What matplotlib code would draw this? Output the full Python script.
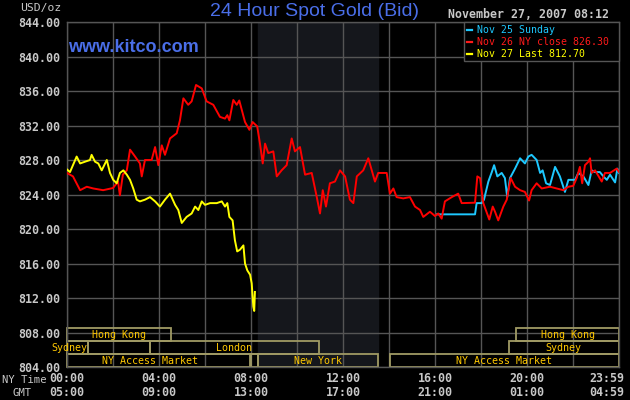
import matplotlib
matplotlib.use("Agg")
import matplotlib.pyplot as plt
from matplotlib.patches import Rectangle
from matplotlib.transforms import blended_transform_factory

# --- DATA (hours since 00:00 NY time, USD/oz) ---
red_t = [0.0, 0.26, 0.57, 0.86, 1.14, 1.57, 2.0, 2.22, 2.30, 2.43, 2.6, 2.74, 2.96, 3.17, 3.25,
         3.39, 3.68, 3.83, 3.97, 4.12, 4.26, 4.48, 4.77, 4.91, 5.06, 5.27, 5.42, 5.61, 5.86, 6.07,
         6.36, 6.65, 6.87, 6.97, 7.06, 7.23, 7.38, 7.49, 7.74, 7.93, 8.07, 8.27, 8.39, 8.51, 8.61,
         8.75, 8.97, 9.12, 9.33, 9.55, 9.77, 9.91, 10.13, 10.35, 10.64, 10.86, 11.0, 11.12, 11.26,
         11.43, 11.65, 11.87, 12.09, 12.30, 12.45, 12.6, 12.88, 13.1, 13.39, 13.53, 13.9, 14.04,
         14.19, 14.33, 14.62, 14.91, 15.13, 15.35, 15.49, 15.78, 16.0, 16.14, 16.29, 16.43, 16.73,
         17.01, 17.16, 17.74, 17.84, 17.96, 18.1, 18.36, 18.51, 18.61, 18.75, 18.97, 19.12, 19.29,
         19.48, 19.7, 19.91, 20.09, 20.2, 20.42, 20.64, 21.0, 21.29, 21.58, 21.8, 22.01, 22.16,
         22.3, 22.4, 22.52, 22.67, 22.74, 22.81, 22.96, 23.25, 23.39, 23.61, 23.9, 24.0]
red_p = [826.5, 826.1, 824.5, 824.9, 824.7, 824.5, 824.75, 825.5, 823.9, 826.3, 826.8, 829.2,
         828.4, 827.6, 826.1, 828.0, 828.0, 829.5, 827.4, 829.7, 828.6, 830.5, 831.1, 832.6,
         835.15, 834.4, 834.8, 836.7, 836.3, 834.8, 834.4, 833.0, 832.8, 833.2, 832.6, 834.96,
         834.4, 834.9, 832.4, 831.5, 832.4, 831.9, 829.9, 827.6, 829.9, 828.8, 829.0, 826.1,
         826.8, 827.4, 830.5, 829.0, 829.5, 826.3, 826.5, 823.7, 821.8, 824.5, 822.6, 825.3,
         825.5, 826.8, 826.1, 823.4, 823.0, 826.1, 826.8, 828.2, 825.5, 826.5, 826.5, 824.1,
         824.7, 823.7, 823.55, 823.7, 822.6, 822.2, 821.4, 822.0, 821.5, 821.8, 821.2, 823.2,
         823.7, 824.1, 823.0, 823.05, 826.1, 825.9, 823.0, 821.1, 822.6, 822.0, 821.0, 822.6,
         823.4, 825.9, 824.9, 824.5, 824.3, 823.3, 824.5, 825.3, 824.7, 824.9, 824.7, 824.5,
         824.9, 825.0, 825.9, 827.2, 825.3, 827.4, 827.8, 828.2, 826.5, 826.8, 825.5, 826.5,
         826.5, 827.0, 826.6]

yellow_t = [0.0, 0.13, 0.42, 0.57, 0.78, 1.0, 1.07, 1.22, 1.36, 1.51, 1.73, 1.87, 2.01, 2.16,
            2.30, 2.45, 2.6, 2.74, 2.88, 3.03, 3.17, 3.39, 3.61, 3.83, 4.04, 4.26, 4.48, 4.7,
            4.84, 4.99, 5.2, 5.42, 5.57, 5.71, 5.86, 6.0, 6.22, 6.51, 6.73, 6.87, 6.97, 7.06,
            7.2, 7.3, 7.4, 7.52, 7.67, 7.74, 7.84, 7.96, 8.03, 8.1, 8.14, 8.17]
yellow_p = [826.9, 826.6, 828.4, 827.6, 827.8, 828.0, 828.6, 827.8, 827.6, 826.8, 828.0, 826.5,
            825.7, 825.3, 826.5, 826.8, 826.3, 825.7, 824.7, 823.4, 823.2, 823.4, 823.7, 823.2,
            822.6, 823.4, 824.1, 822.8, 822.2, 820.7, 821.4, 821.8, 822.6, 822.2, 823.2, 822.8,
            823.0, 823.0, 823.2, 822.6, 823.0, 821.4, 821.0, 818.7, 817.4, 817.6, 818.1, 816.0,
            815.2, 814.7, 813.7, 811.0, 810.5, 812.7]

cyan_t = [16.09, 17.74, 17.81, 18.03, 18.13, 18.32, 18.47, 18.57, 18.71, 18.9, 19.04, 19.14,
          19.26, 19.48, 19.7, 19.91, 20.06, 20.2, 20.42, 20.57, 20.68, 20.83, 21.0, 21.22,
          21.43, 21.65, 21.8, 22.09, 22.23, 22.45, 22.67, 22.81, 22.96, 23.17, 23.32, 23.47,
          23.61, 23.83, 23.93, 24.0]
cyan_p = [821.7, 821.7, 823.0, 823.0, 823.4, 825.5, 826.6, 827.4, 826.1, 826.5, 825.9, 823.7,
          825.9, 827.0, 828.2, 827.6, 828.4, 828.6, 828.0, 826.5, 826.8, 825.3, 825.1, 827.2,
          826.1, 824.3, 825.7, 825.7, 826.5, 826.1, 825.1, 826.8, 826.6, 826.6, 826.1, 825.7,
          826.3, 825.4, 827.0, 826.5]

legend_labels = ["Nov 25 Sunday", "Nov 26 NY close 826.30", "Nov 27 Last 812.70"]
ny_ticks = [0, 4, 8, 12, 16, 20, 23.48]
ny_labels = ["00:00", "04:00", "08:00", "12:00", "16:00", "20:00", "23:59"]
gmt_labels = ["05:00", "09:00", "13:00", "17:00", "21:00", "01:00", "04:59"]
y_ticks = list(range(804, 845, 4))

# market sessions: (name, start hour, end hour, row)
markets = [("Hong Kong", 0.0, 4.52, 2), ("Sydney", 0.0, 0.9, 1), ("", 0.9, 3.6, 1),
           ("London", 3.6, 10.96, 1), ("NY Access Market", 0.0, 7.95, 0), ("", 7.99, 8.3, 0),
           ("New York", 8.3, 13.52, 0), ("NY Access Market", 14.04, 24.0, 0),
           ("Hong Kong", 19.52, 24.0, 2), ("Sydney", 19.2, 24.0, 1)]

# --- STYLE ---
W, H = 630, 400
BG = "#000000"
GRID = "#555555"
GREY = "#c8c8c8"
BLUE = "#4a6ee8"
BOX = "#a09a64"
MKT_TXT = "#ffc800"
MONO = "DejaVu Sans Mono"

fig = plt.figure(figsize=(W / 100, H / 100), dpi=100, facecolor=BG)
ax = fig.add_axes([67 / W, 33 / H, 552 / W, 345 / H], facecolor=BG)
ax.set_xlim(0, 24)
ax.set_ylim(804, 844)

# New York session shading
ax.axvspan(8.3, 13.52, color="#15171c", zorder=0)

ax.set_xticks(range(0, 25, 2))
ax.set_yticks(y_ticks)
ax.set_yticklabels([f"{v:.2f}" for v in y_ticks], family=MONO, fontweight="bold",
                   fontsize=8.4, color=GREY)
ax.set_xticklabels([])
ax.tick_params(length=0, pad=5)
ax.grid(True, color=GRID, lw=1.0, zorder=1)
for s in ax.spines.values():
    s.set_color(GRID)
    s.set_linewidth(1.0)

# market boxes
row_h = 1.5
for name, x0, x1, row in markets:
    y0 = 804 + row * row_h
    ax.add_patch(Rectangle((x0, y0), x1 - x0, row_h, fill=False, ec=BOX, lw=1.3,
                           zorder=2, clip_on=False))
    if not name:
        continue
    if name == "Sydney" and x0 == 0.0:
        ax.text(x1, y0 + row_h / 2, name, ha="right", va="center", color=MKT_TXT,
                family=MONO, fontsize=7.2, zorder=3, clip_on=False)
    else:
        xc = (x0 + x1) / 2
        if name == "NY Access Market" and x0 == 0.0:
            xc = 3.6
        if name == "Hong Kong" and x0 > 0:
            xc = 21.8
        ax.text(xc, y0 + row_h / 2, name, ha="center", va="center", color=MKT_TXT,
                family=MONO, fontsize=7.2, zorder=3)

# price lines
ax.plot(cyan_t, cyan_p, color="#1ec8ff", lw=1.4, zorder=4)
ax.plot(red_t, red_p, color="#ff0000", lw=1.4, zorder=5)
ax.plot(yellow_t, yellow_p, color="#ffff00", lw=1.4, zorder=6)

# time axis labels
tr = blended_transform_factory(ax.transData, fig.transFigure)
for x, a, b in zip(ny_ticks, ny_labels, gmt_labels):
    ax.text(x, 1 - 379 / H, a, transform=tr, ha="center", va="center", color=GREY,
            family=MONO, fontweight="bold", fontsize=8.4)
    ax.text(x, 1 - 393 / H, b, transform=tr, ha="center", va="center", color=GREY,
            family=MONO, fontweight="bold", fontsize=8.4)
fig.text(2 / W, 1 - 380 / H, "NY Time", ha="left", va="center", color=GREY,
         family=MONO, fontsize=7.6)
fig.text(12 / W, 1 - 393 / H, "GMT", ha="left", va="center", color=GREY,
         family=MONO, fontsize=7.6)

# legend box
leg_x0, leg_x1, leg_y0, leg_y1 = 464, 619, 22, 61
fig.patches.append(Rectangle((leg_x0 / W, 1 - leg_y1 / H), (leg_x1 - leg_x0) / W,
                             (leg_y1 - leg_y0) / H, transform=fig.transFigure,
                             fc=BG, ec=GRID, lw=1.0, zorder=10))
leg_colors = ["#1ec8ff", "#ff1a1a", "#ffff00"]
for i, (lab, c) in enumerate(zip(legend_labels, leg_colors)):
    yy = 1 - (30 + 12 * i) / H
    fig.add_artist(plt.Line2D([467 / W, 472 / W], [yy, yy], color=c, lw=1.6, zorder=11))
    fig.text(477 / W, yy, lab, ha="left", va="center", color=c, family=MONO,
             fontsize=7.1, zorder=11)

# titles
fig.text(314 / W, 1 - 12 / H, "24 Hour Spot Gold (Bid)", ha="center", va="center",
         color=BLUE, family="Liberation Sans", fontsize=14)
fig.text(68 / W, 1 - 48 / H, "www.kitco.com", ha="left", va="center", color=BLUE,
         family="Liberation Sans", fontweight="bold", fontsize=13)
fig.text(20 / W, 1 - 8 / H, "USD/oz", ha="left", va="center", color=GREY,
         family=MONO, fontsize=8.2)
fig.text(609 / W, 1 - 14 / H, "November 27, 2007 08:12", ha="right", va="center",
         color=GREY, family=MONO, fontweight="bold", fontsize=8.4)

fig.savefig("out.png", dpi=100, facecolor=BG)
